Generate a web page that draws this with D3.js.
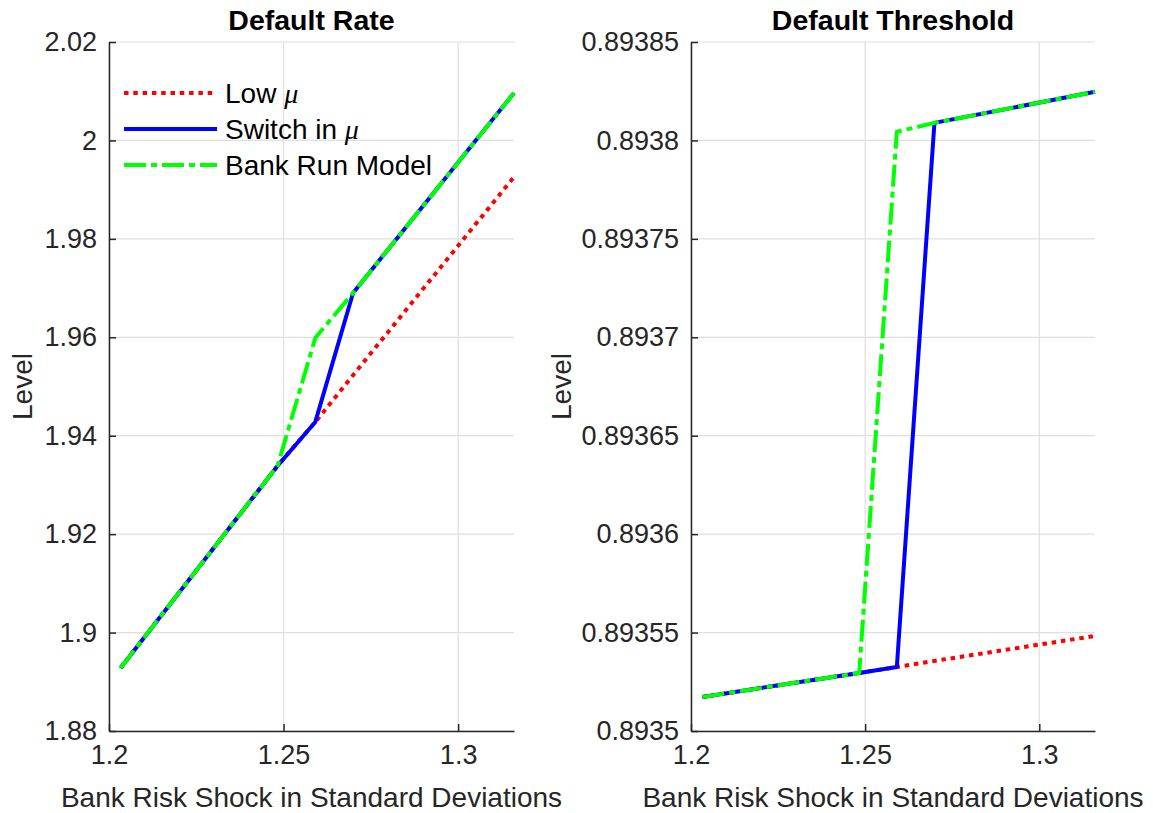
<!DOCTYPE html>
<html><head><meta charset="utf-8">
<script src="https://cdn.jsdelivr.net/npm/d3@7"></script>
<style>
body{margin:0;background:#fff;}
text{font-family:"Liberation Sans",Arial,Helvetica,sans-serif;fill:#262626;}
</style></head>
<body><svg id="chart" width="1153" height="813"></svg>
<script>
// ---- data ----
const shockX = [1.2033, 1.2483, 1.2591, 1.2699, 1.316];
const rateLow = [1.8928, 1.9339, 1.9428, 1.9523, 1.99258];
const rateSwitch = [1.8928, 1.9339, 1.9428, 1.9690, 2.00965];
const rateBankRun = [1.8928, 1.9339, 1.9599, 1.9690, 2.00965];
const thrLow = [0.8935173, 0.8935295, 0.8935325, 0.8935356, 0.8935483];
const thrSwitch = [0.8935173, 0.8935295, 0.8935325, 0.8938089, 0.8938247];
const thrBankRun = [0.8935173, 0.8935295, 0.8938044, 0.8938089, 0.8938247];
const xTicks = [1.2, 1.25, 1.3];
const rateTicks = [1.88, 1.9, 1.92, 1.94, 1.96, 1.98, 2.0, 2.02];
const thrTicks = [0.8935, 0.89355, 0.8936, 0.89365, 0.8937, 0.89375, 0.8938, 0.89385];
const seriesNames = ["Low", "Switch in", "Bank Run Model"];
const titles = ["Default Rate", "Default Threshold"];

const styles = [
  {color:"#ff0000", dash:"4.5,4.8"},
  {color:"#0000ff", dash:null},
  {color:"#00ff00", dash:"22,5,6,5"}
];

const svg = d3.select("#chart");
const plotTop = 42, plotBottom = 731;
const panels = [
  {left:109, right:514, title:titles[0], series:[rateLow, rateSwitch, rateBankRun], ticks:rateTicks,
   ydom:[1.88, 2.02], fmt:d=>String(+d.toFixed(2)), ylabX:22},
  {left:691, right:1095, title:titles[1], series:[thrLow, thrSwitch, thrBankRun], ticks:thrTicks,
   ydom:[0.8935, 0.89385], fmt:d=>String(+d.toFixed(5)), ylabX:561}
];

panels.forEach((p, pi) => {
  const x = d3.scaleLinear().domain([1.2, 1.316]).range([p.left, p.right]);
  const y = d3.scaleLinear().domain(p.ydom).range([plotBottom, plotTop]);
  const g = svg.append("g");
  // grid
  g.append("g").selectAll("line").data(p.ticks).join("line")
    .attr("x1", p.left).attr("x2", p.right).attr("y1", d=>y(d)).attr("y2", d=>y(d))
    .attr("stroke", "#dfdfdf").attr("stroke-width", 1.2);
  g.append("g").selectAll("line").data(xTicks).join("line")
    .attr("x1", d=>x(d)).attr("x2", d=>x(d)).attr("y1", plotTop).attr("y2", plotBottom)
    .attr("stroke", "#dfdfdf").attr("stroke-width", 1.2);
  // axes
  const xAxis = d3.axisBottom(x).tickValues(xTicks).tickSizeInner(-7).tickSizeOuter(0).tickPadding(14)
    .tickFormat(d=>String(+d.toFixed(2)));
  const yAxis = d3.axisLeft(y).tickValues(p.ticks).tickSizeInner(-7).tickSizeOuter(0).tickPadding(12)
    .tickFormat(p.fmt);
  const gx = g.append("g").attr("transform", `translate(0,${plotBottom})`).call(xAxis);
  const gy = g.append("g").attr("transform", `translate(${p.left},0)`).call(yAxis);
  [gx, gy].forEach(a => {
    a.select(".domain").attr("stroke", "#262626").attr("stroke-width", 1.5);
    a.selectAll(".tick line").attr("stroke", "#262626").attr("stroke-width", 1.5);
    a.selectAll(".tick text").attr("font-size", 27).attr("fill", "#262626")
      .style("font-family", "'Liberation Sans',Arial,sans-serif");
  });
  // lines
  const line = d3.line().x((d,i)=>x(shockX[i])).y(d=>y(d));
  p.series.forEach((s, si) => {
    g.append("path").datum(s).attr("d", line)
      .attr("fill", "none").attr("stroke", styles[si].color).attr("stroke-width", 4)
      .attr("stroke-dasharray", styles[si].dash)
      .attr("stroke-linejoin", "round");
  });
  // title
  g.append("text").attr("x", (p.left+p.right)/2).attr("y", 30).attr("text-anchor", "middle")
    .attr("font-size", 28.5).attr("font-weight", "bold").style("fill", "#000").text(p.title);
  // x label
  g.append("text").attr("x", (p.left+p.right)/2).attr("y", 807).attr("text-anchor", "middle")
    .attr("font-size", 28).text("Bank Risk Shock in Standard Deviations");
  // y label
  g.append("text").attr("transform", `translate(${p.ylabX + 10},${(plotTop+plotBottom)/2}) rotate(-90)`)
    .attr("text-anchor", "middle").attr("font-size", 28).text("Level");
});

// legend
const legY = [93, 129, 165];
const leg = svg.append("g");
seriesNames.forEach((name, i) => {
  leg.append("line").attr("x1", 124).attr("x2", 217).attr("y1", legY[i]).attr("y2", legY[i])
    .attr("stroke", styles[i].color).attr("stroke-width", 4).attr("stroke-dasharray", styles[i].dash);
  const t = leg.append("text").attr("x", 225).attr("y", legY[i] + 10).attr("font-size", 28).style("fill", "#000");
  t.append("tspan").text(name);
  if (i < 2) {
    t.append("tspan").text(" ");
    t.append("tspan").attr("font-style", "italic").style("font-family", "'Liberation Serif','DejaVu Serif',serif")
      .text("μ");
  }
});
</script></body></html>
